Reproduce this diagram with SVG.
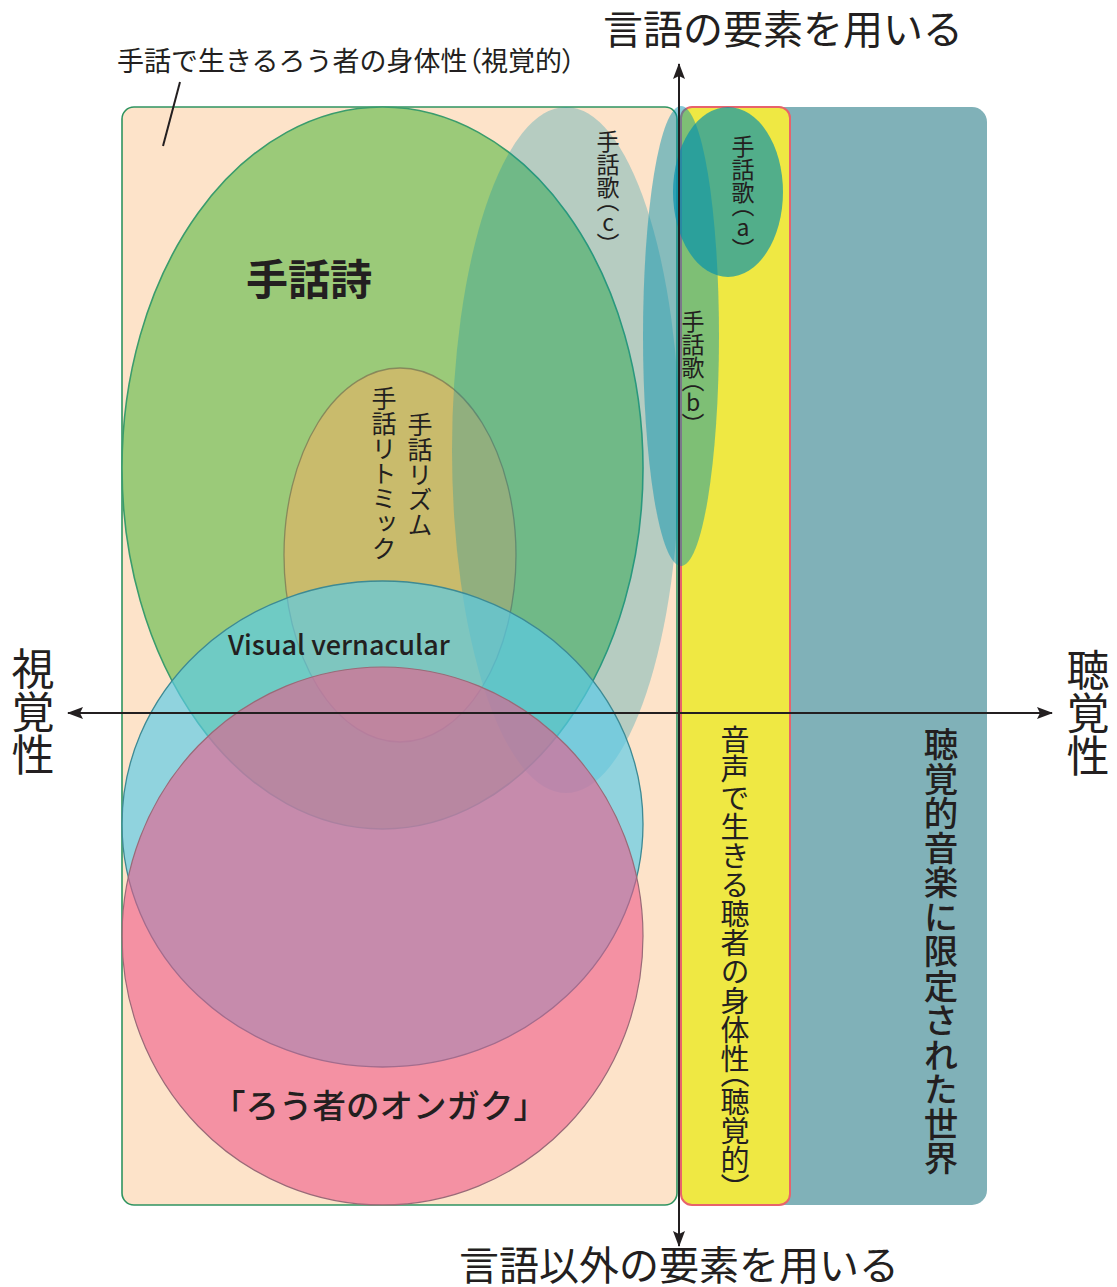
<svg xmlns="http://www.w3.org/2000/svg" width="1117" height="1287" viewBox="0 0 1117 1287">
<style>
text { font-family: "Noto Sans CJK JP", "Noto Sans", sans-serif; fill: #231f20; }
.v { writing-mode: vertical-rl; text-orientation: upright; }
.vp { font-feature-settings: "vpal" 1; }
.hp { font-feature-settings: "palt" 1; }
.ax { stroke: #231f20; stroke-width: 2; fill: none; }
.song { fill: #0090ae; }
</style>
<defs>
<marker id="arr" viewBox="0 0 16 12" markerWidth="16" markerHeight="12" refX="15" refY="6" orient="auto" markerUnits="userSpaceOnUse">
<path d="M0,0 L16,6 L0,12 L3,6 Z" fill="#231f20"/>
</marker>
</defs>
<rect width="1117" height="1287" fill="#ffffff"/>

<g id="hearing-world">
<rect x="740" y="107" width="247" height="1098" rx="15" fill="#80b1b8"/>
</g>
<g id="deaf-body">
<rect x="122" y="107" width="555" height="1098" rx="12" fill="#fde3c9" stroke="#2f9460" stroke-width="1.6"/>
</g>
<g id="hearing-body">
<rect x="681" y="107" width="109" height="1098" rx="11" fill="#efe843" stroke="#e8636b" stroke-width="2"/>
</g>
<g id="sign-poetry">
<ellipse cx="382.5" cy="468" rx="260.5" ry="361" fill="#9bca79" stroke="#3a9c6c" stroke-width="1.6"/>
</g>
<g id="sign-rhythm">
<ellipse cx="400" cy="555" rx="116" ry="187" fill="#c9bb6c" stroke="#7d7a55" stroke-width="1.3" stroke-opacity="0.8"/>
</g>
<g id="song-c">
<ellipse class="song" cx="566" cy="450" rx="114" ry="343" fill-opacity="0.28"/>
</g>
<g id="song-b">
<ellipse class="song" cx="681" cy="336" rx="38" ry="230" fill-opacity="0.47"/>
</g>
<g id="song-a">
<ellipse class="song" cx="728" cy="192" rx="55" ry="85" fill-opacity="0.66"/>
</g>
<g id="visual-vernacular">
<ellipse cx="382.5" cy="824" rx="260.5" ry="243" fill="#59cbe9" fill-opacity="0.67" stroke="#3d8a94" stroke-width="1.3"/>
</g>
<g id="deaf-ongaku">
<ellipse cx="382.5" cy="936" rx="260.5" ry="269" fill="#ee5688" fill-opacity="0.58" stroke="#9a6a78" stroke-width="1.2"/>
</g>

<g id="connectors">
<line class="ax" x1="679" y1="1232" x2="679" y2="64" marker-end="url(#arr)"/>
<line class="ax" x1="679" y1="100" x2="679" y2="1246" marker-end="url(#arr)"/>
<line class="ax" x1="1000" y1="713" x2="68" y2="713" marker-end="url(#arr)"/>
<line class="ax" x1="100" y1="713" x2="1052" y2="713" marker-end="url(#arr)"/>
<line x1="180" y1="82" x2="163" y2="146" stroke="#231f20" stroke-width="2"/>
</g>

<g id="labels">
<text x="603" y="44" font-size="40">言語の要素を用いる</text>
<text x="459" y="1280" font-size="40">言語以外の要素を用いる</text>
<text x="117" y="71" font-size="27">手話で生きるろう者の身体性<tspan class="hp">（</tspan>視覚的<tspan class="hp">）</tspan></text>
<text x="246" y="295" font-size="42" font-weight="700">手話詩</text>
<text x="228" y="655" font-size="27" font-weight="500">Visual vernacular</text>
<text x="212" y="1118" font-size="33.5" font-weight="500">「ろう者のオンガク」</text>
<text class="v" x="608" y="130" font-size="23">手話歌<tspan class="vp">（</tspan>c<tspan class="vp">）</tspan></text>
<text class="v" x="743" y="135" font-size="23">手話歌<tspan class="vp">（</tspan>a<tspan class="vp">）</tspan></text>
<text class="v" x="693" y="310" font-size="23">手話歌<tspan class="vp">（</tspan>b<tspan class="vp">）</tspan></text>
<text class="v" x="420" y="412" font-size="25">手話リズム</text>
<text class="v" x="384" y="386" font-size="25">手話リトミック</text>
<text class="v" x="735" y="725" font-size="29">音声で生きる聴者の身体性<tspan class="vp">（</tspan>聴覚的<tspan class="vp">）</tspan></text>
<text class="v" x="941" y="727" font-size="34.5" font-weight="500">聴覚的音楽に限定された世界</text>
<text class="v" x="33" y="647" font-size="43">視覚性</text>
<text class="v" x="1088" y="648" font-size="43">聴覚性</text>
</g>
</svg>
